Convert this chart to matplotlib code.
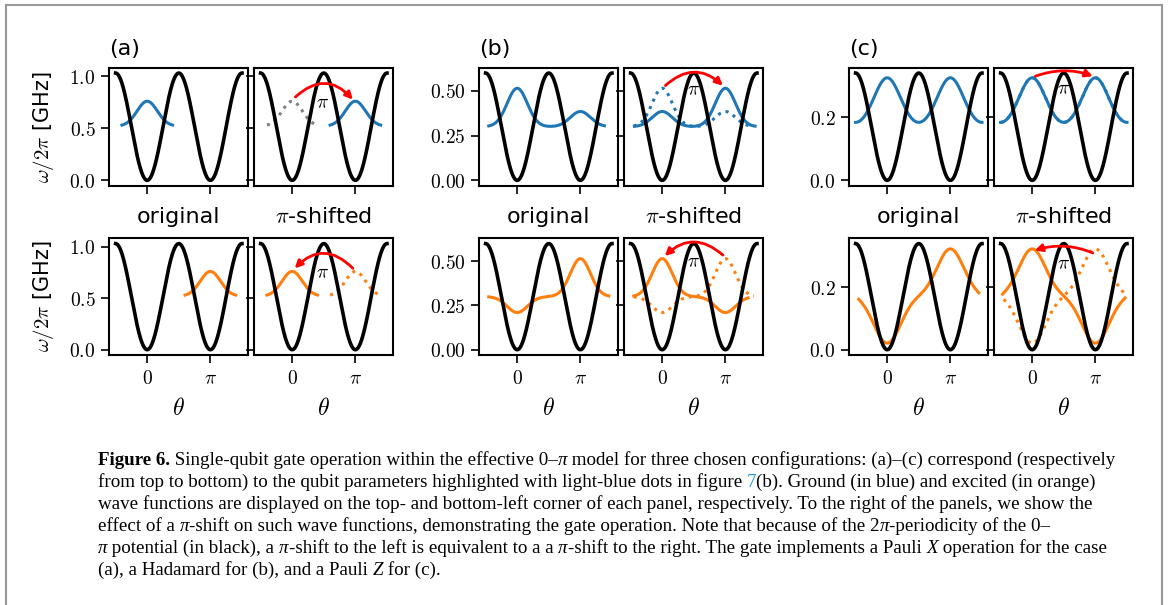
import numpy as np
import matplotlib
matplotlib.use("Agg")
import matplotlib.pyplot as plt
from matplotlib.patches import Rectangle
from matplotlib.font_manager import FontProperties

plt.rcParams["mathtext.fontset"] = "cm"
plt.rcParams["font.family"] = "DejaVu Sans"

PI = np.pi

# -----------------------------
# MODEL PARAMETERS (GHz, angles in units of pi)
# -----------------------------
v_max = [1.03, 0.60, 0.34]          # barrier height of the 0-pi potential

ground_level = [0.52, 0.30, 0.165]
ground_w0 = [0.24, 0.215, 0.16]      # weight in the 0 well
ground_wpi = [0.0, 0.085, 0.16]      # weight in the pi well
excited_level = [0.52, 0.30, 0.172]
excited_w0 = [0.0, -0.09, -0.151]
excited_wpi = [0.24, 0.215, 0.151]
well_width = [0.16, 0.16, 0.21]

ground_span = [(-0.40, 0.40), (-0.45, 1.38), (-0.50, 1.50)]
ground_span_shift = [(0.60, 1.40), (-0.44, 1.47), (-0.50, 1.50)]
excited_span = [(0.60, 1.40), (-0.45, 1.45), (-0.45, 1.45)]
excited_span_shift = [(-0.40, 0.40), (-0.45, 1.36), (-0.47, 1.47)]

# pi-shift arrows: (x_start, y_start, x_end, y_end)
arrow_top = [(0.05, 0.80, 0.96, 0.775), (0.05, 0.53, 0.96, 0.53), (0.05, 0.33, 0.96, 0.33)]
arrow_bottom = [(0.96, 0.79, 0.04, 0.79), (0.96, 0.535, 0.04, 0.53), (0.96, 0.31, 0.04, 0.318)]
arrow_bend = [0.5, 0.45, 0.18]
pi_label_top = [(0.48, 0.745), (0.49, 0.505), (0.49, 0.289)]
pi_label_bottom = [(0.48, 0.75), (0.49, 0.50), (0.49, 0.274)]

yticks = [[0, 0.5, 1.0], [0, 0.25, 0.5], [0, 0.2]]
ytick_labels = [["0.0", "0.5", "1.0"], ["0.00", "0.25", "0.50"], ["0.0", "0.2"]]
panel_tags = ["(a)", "(b)", "(c)"]
ground_dot_color = ["gray", "C0", "C0"]

BLUE, ORANGE = "#1f77b4", "#ff7f0e"


def well(th, c, s):
    # periodic gaussian bump centred on c
    d = (th - c + PI) % (2 * PI) - PI
    return np.exp(-0.5 * (d / (s * PI)) ** 2)


def wave(span, level, w0, wpi, s):
    th = np.linspace(span[0] * PI, span[1] * PI, 300)
    return th, level + w0 * well(th, 0, s) + wpi * well(th, PI, s)


W, H = 1168, 605
fig = plt.figure(figsize=(W / 100, H / 100), dpi=100)


def px_axes(x0, y0, x1, y1, **kw):
    return fig.add_axes([x0 / W, 1 - y1 / H, (x1 - x0) / W, (y1 - y0) / H], **kw)


rows = [(67.7, 185.7), (238.3, 355.0)]
theta = np.linspace(-PI / 2, 3 * PI / 2, 500)

for g in range(3):
    left = 109.3 + 370 * g
    pot = v_max[g] * (1 - np.cos(2 * theta)) / 2
    s = well_width[g]
    for r, (top, bot) in enumerate(rows):
        ax0 = px_axes(left, top, left + 139, bot)
        ax1 = px_axes(left + 145, top, left + 284, bot, sharey=ax0)

        if r == 0:
            lvl, a0, api, col = ground_level[g], ground_w0[g], ground_wpi[g], BLUE
            span, span_sh = ground_span[g], ground_span_shift[g]
            dcol = ground_dot_color[g]
            arr, lab, rad = arrow_top[g], pi_label_top[g], -arrow_bend[g]
        else:
            lvl, a0, api, col = excited_level[g], excited_w0[g], excited_wpi[g], ORANGE
            span, span_sh = excited_span[g], excited_span_shift[g]
            dcol = ORANGE
            arr, lab, rad = arrow_bottom[g], pi_label_bottom[g], arrow_bend[g]

        # original wave function
        ax0.plot(*wave(span, lvl, a0, api, s), color=col, lw=2.2, zorder=2)
        # shifted: dotted original + solid shifted copy
        ax1.plot(*wave(span, lvl, a0, api, s), color=dcol, lw=2.2, ls=":", zorder=2)
        ax1.plot(*wave(span_sh, lvl, api, a0, s), color=col, lw=2.2, zorder=2)

        for ax in (ax0, ax1):
            ax.plot(theta, pot, color="black", lw=2.6, zorder=3)
            ax.set_xlim(-0.6 * PI, 1.6 * PI)
            ax.set_xticks([0, PI])
            ax.tick_params(direction="out", length=6, width=1.2, labelsize=14, pad=4)
            for sp in ax.spines.values():
                sp.set_linewidth(1.5)
            if r == 0:
                ax.set_xticklabels([])
            else:
                ax.set_xticklabels([r"$0$", r"$\pi$"])
        ax0.set_ylim(-0.05 * v_max[g], 1.05 * v_max[g])
        ax0.set_yticks(yticks[g])
        ax0.set_yticklabels(["$" + t + "$" for t in ytick_labels[g]])
        ax1.tick_params(labelleft=False)

        ax1.annotate("", xy=(arr[2] * PI, arr[3]), xytext=(arr[0] * PI, arr[1]),
                     arrowprops=dict(arrowstyle="-|>", color="red", lw=2,
                                     mutation_scale=11, shrinkA=0, shrinkB=0,
                                     connectionstyle=f"arc3,rad={rad}"),
                     zorder=5)
        ax1.text(lab[0] * PI, lab[1], r"$\pi$", fontsize=14, ha="center", va="center", zorder=6)

        cx0 = (left + left + 139) / 2 / W
        cx1 = (left + 145 + left + 284) / 2 / W
        if r == 0:
            fig.text(cx0, 1 - 223 / H, "original", fontsize=16, ha="center", va="baseline")
            fig.text(cx1, 1 - 223 / H, r"$\pi$-shifted", fontsize=16, ha="center", va="baseline")
        else:
            fig.text(cx0, 1 - 415 / H, r"$\theta$", fontsize=17, ha="center", va="baseline")
            fig.text(cx1, 1 - 415 / H, r"$\theta$", fontsize=17, ha="center", va="baseline")
        if g == 0:
            fig.text(43 / W, 1 - (top + bot) / 2 / H, r"$\omega/2\pi$ [GHz]", fontsize=15,
                     rotation=90, ha="center", va="center")

    fig.text(left / W, 1 - 55 / H, panel_tags[g], fontsize=16, ha="left", va="baseline")

# -----------------------------
# CAPTION
# -----------------------------
renderer = fig.canvas.get_renderer()
cap_size = 13.7
base = dict(family="Liberation Serif", size=cap_size)


def advance(s, style):
    fp = FontProperties(**base, **{k: v for k, v in style.items() if k in ("weight", "style")})
    w1 = renderer.get_text_width_height_descent("|" + s + "|", fp, False)[0]
    w2 = renderer.get_text_width_height_descent("||", fp, False)[0]
    return w1 - w2


def caption_line(y, parts):
    x = 98
    for s, style in parts:
        fig.text(x / W, 1 - y / H, s, va="baseline", ha="left", **base, **style)
        x += advance(s, style)


N, B, I, LINK = {}, {"weight": "bold"}, {"style": "italic"}, {"color": "#239bd6"}
caption = [
    [("Figure 6.", B), (" Single-qubit gate operation within the effective 0–", N), ("π", I),
     (" model for three chosen configurations: (a)–(c) correspond (respectively", N)],
    [("from top to bottom) to the qubit parameters highlighted with light-blue dots in figure ", N),
     ("7", LINK), ("(b). Ground (in blue) and excited (in orange)", N)],
    [("wave functions are displayed on the top- and bottom-left corner of each panel, respectively. "
      "To the right of the panels, we show the", N)],
    [("effect of a ", N), ("π", I), ("-shift on such wave functions, demonstrating the gate operation. "
     "Note that because of the 2", N), ("π", I), ("-periodicity of the 0–", N)],
    [("π", I), (" potential (in black), a ", N), ("π", I), ("-shift to the left is equivalent to a a ", N),
     ("π", I), ("-shift to the right. The gate implements a Pauli ", N), ("X", I),
     (" operation for the case", N)],
    [("(a), a Hadamard for (b), and a Pauli ", N), ("Z", I), (" for (c).", N)],
]
for i, parts in enumerate(caption):
    caption_line(465 + 22 * i, parts)

# page frame
fig.add_artist(Rectangle((5.5 / W, -0.1), 1156 / W, 1.1 - 5.5 / H, transform=fig.transFigure,
                         fill=False, edgecolor="#999999", lw=1.5, clip_on=False))

fig.savefig("out.png", dpi=100, facecolor="white")
